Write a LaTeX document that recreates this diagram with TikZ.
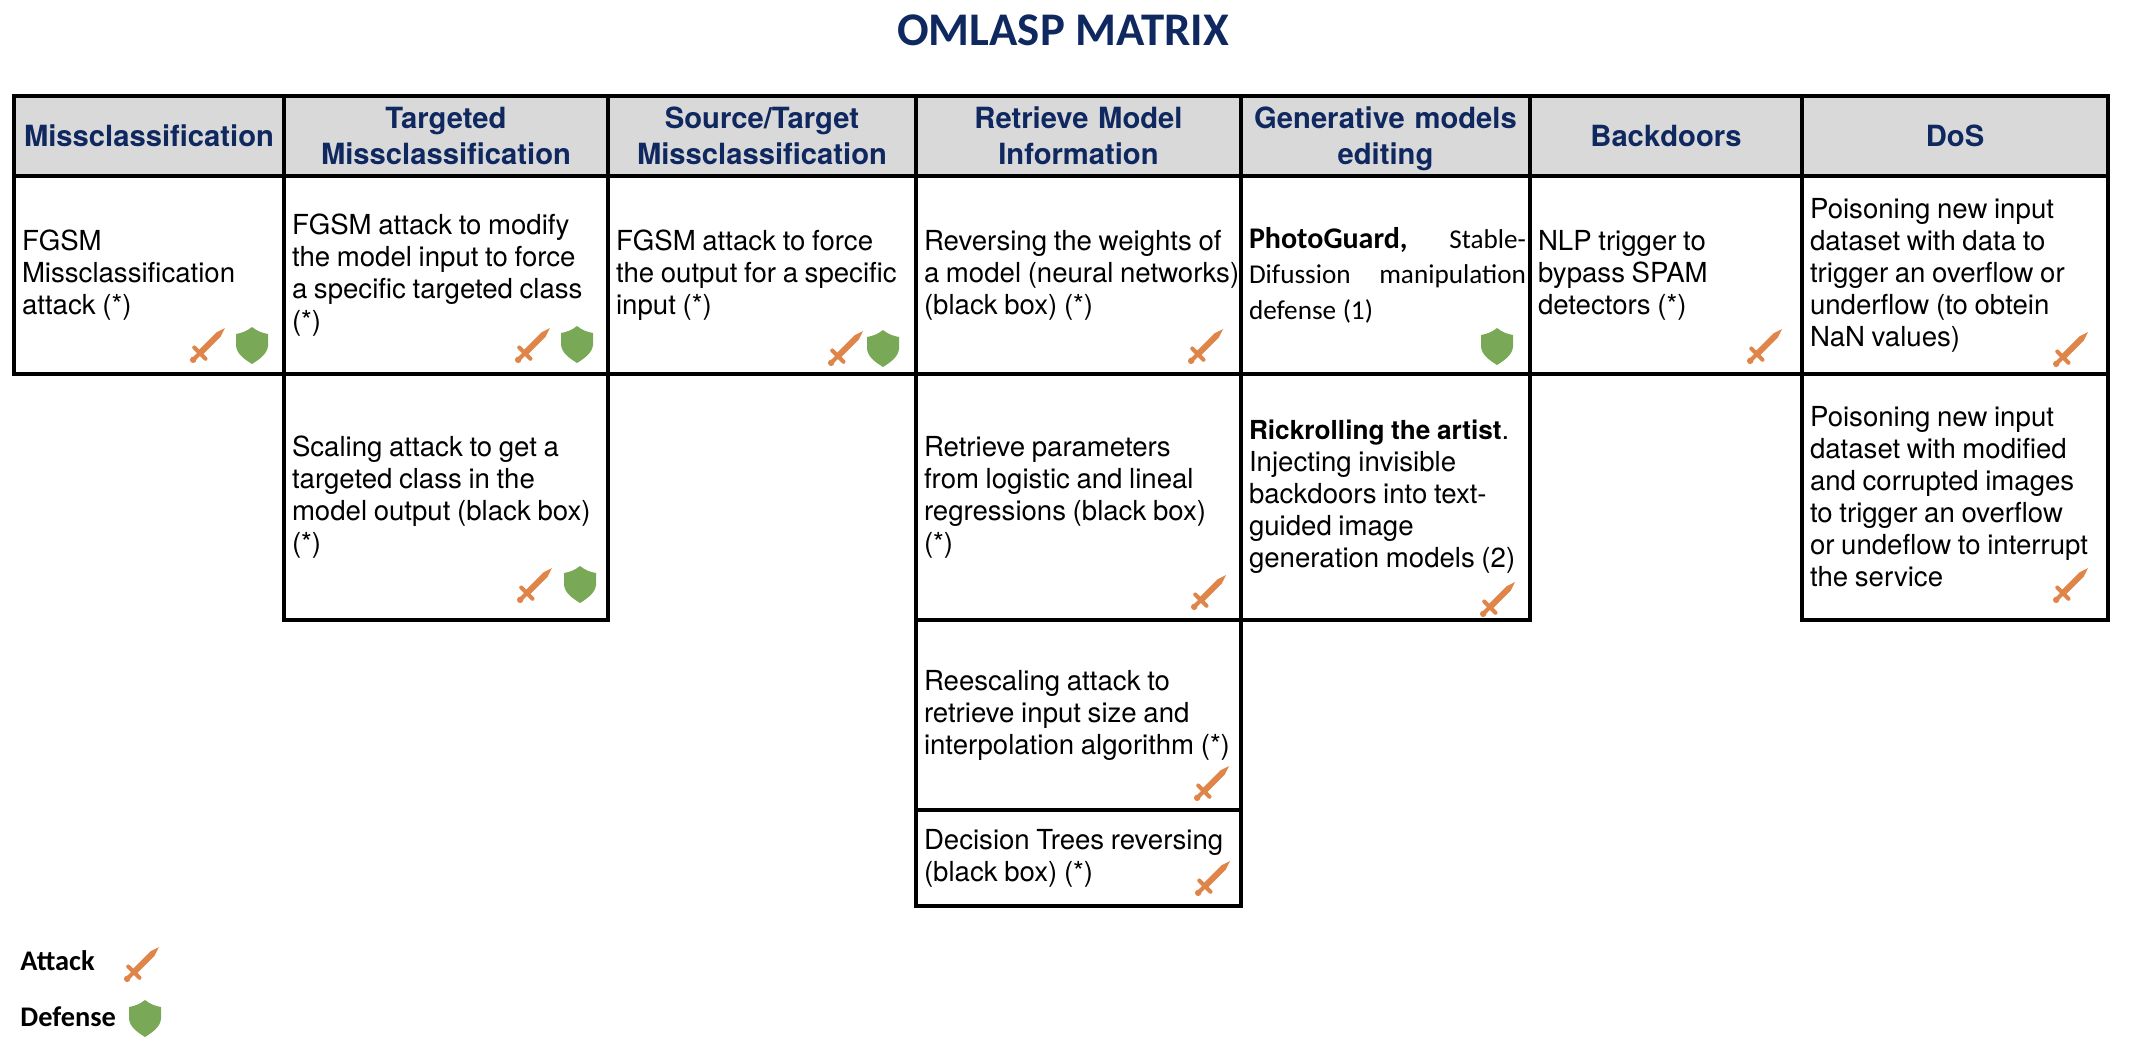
\documentclass[tikz,border=0pt]{standalone}
\usepackage{fontspec}
\setmainfont{TeX Gyre Heros}
\newfontfamily\calibri{Carlito}
\definecolor{navy}{HTML}{0F2860}
\definecolor{headgray}{HTML}{D9D9D9}
\definecolor{swordorange}{HTML}{DF8549}
\definecolor{shieldgreen}{HTML}{79A957}
\tikzset{
	headbox/.style={draw, fill=headgray, line width=1.8pt, anchor=north west, outer sep=0pt,
		inner xsep=1pt, inner ysep=0pt, minimum height=40pt, text width=#1*.5pt-2pt, align=center,
		text=navy, font=\fontsize{14.6}{18}\selectfont\bfseries,
		execute at begin node={\rule{0pt}{13.6pt}}, execute at end node={\rule[-3.6pt]{0pt}{3.6pt}}},
	cellbox/.style 2 args={draw, line width=1.8pt, anchor=north west, outer sep=0pt,
		inner xsep=0pt, inner ysep=0pt, minimum height=#2*.5pt, text width=#1*.5pt, align=left,
		font=\fontsize{13.8}{16}\selectfont,
		execute at begin node={\leftskip=4pt\hyphenpenalty=10000\spaceskip=.24em\relax}},
	keylabel/.style={anchor=west, inner sep=0pt, font=\calibri\fontsize{14.2}{16}\selectfont\bfseries},
	attackicon/.pic={
		\begin{scope}[rotate=45]
			\fill[swordorange] (-11,-3) -- (15,-3) -- (24,0) -- (15,3) -- (-11,3) -- cycle;
			\fill[swordorange, rounded corners=1pt] (-13.5,-10) rectangle (-9.5,10);
			\fill[swordorange] (-21,-2) rectangle (-11,2);
			\fill[swordorange] (-21,0) circle (3.2);
		\end{scope}
	},
	defenseicon/.pic={
		\fill[shieldgreen] (0,-18) .. controls (5,-14) and (10,-12) .. (16,-11)
			-- (16,1) .. controls (15,9) and (8,14) .. (0,19)
			.. controls (-8,14) and (-15,9) .. (-16,1) -- (-16,-11)
			.. controls (-10,-12) and (-5,-14) .. (0,-18) -- cycle;
	}
}
\begin{document}
\begin{tikzpicture}[x=.5pt, y=-.5pt]
	\useasboundingbox (0,0) rectangle (2134,1050);

	\node[text=navy, font=\calibri\fontsize{23.4}{26}\selectfont\bfseries, inner sep=0pt] (title) at (1063,30) {OMLASP MATRIX};

	% draw header row
	\foreach \s/\x/\w/\txt in {
		1/14/270/{Missclassification},
		2/284/324/{Targeted\\Missclassification},
		3/608/308/{Source/Target\\Missclassification},
		4/916/325/{Retrieve Model\\Information},
		5/1241/289/{Generative models\\editing},
		6/1530/272/{Backdoors},
		7/1802/306/{DoS}}
	{
		\node[headbox=\w] (head_\s) at (\x,96) {\txt};
	}

	% draw first row
	\foreach \s/\x/\w/\txt in {
		1/14/270/{FGSM\\Missclassification\\attack (*)},
		2/284/324/{FGSM attack to modify\\the model input to force\\a specific targeted class\\(*)},
		3/608/308/{FGSM attack to force\\the output for a specific\\input (*)},
		4/916/325/{Reversing the weights of\\a model (neural networks)\\(black box) (*)},
		6/1530/272/{NLP trigger to\\bypass SPAM\\detectors (*)},
		7/1802/306/{Poisoning new input\\dataset with data to\\trigger an overflow or\\underflow (to obtein\\NaN values)}}
	{
		\node[cellbox={\w}{198}] (first_\s) at (\x,176) {\txt};
	}
	\node[cellbox={289}{198}, font=\calibri\fontsize{13.6}{17.8}\selectfont] (first_5) at (1241,176)
		{{\fontsize{15}{17.8}\selectfont\textbf{PhotoGuard,}}\hfill Stable-\kern2pt\\Difussion\hfill manipulation\kern2pt\\defense (1)};

	% draw second row
	\node[cellbox={324}{246}] (second_2) at (284,374) {Scaling attack to get a\\targeted class in the\\model output (black box)\\(*)};
	\node[cellbox={325}{246}] (second_4) at (916,374) {Retrieve parameters\\from logistic and lineal\\regressions (black box)\\(*)};
	\node[cellbox={289}{246}] (second_5) at (1241,374) {{\fontsize{13.1}{16}\selectfont\textbf{Rickrolling the artist}}.\\Injecting invisible\\backdoors into text-\\guided image\\generation models (2)};
	\node[cellbox={306}{246}] (second_7) at (1802,374) {Poisoning new input\\dataset with modified\\and corrupted images\\to trigger an overflow\\or undeflow to interrupt\\the service};

	% draw last rows
	\node[cellbox={325}{190}] (third_4) at (916,620) {Reescaling attack to\\retrieve input size and\\interpolation algorithm (*)};
	\node[cellbox={325}{96}] (fourth_4) at (916,810) {Decision Trees reversing\\(black box) (*)};

	% draw icons
	\foreach \x/\y in {208/345, 533/345, 846/348, 1206/346, 1765/346, 2071/349, 535/585, 1209/592, 1498/599, 2071/585, 1212/783, 1213/878}
	{
		\pic at (\x,\y) {attackicon};
	}
	\foreach \x/\y in {252/345, 577/344, 883/348, 1497/346, 580/584}
	{
		\pic at (\x,\y) {defenseicon};
	}

	% draw legend
	\node[keylabel] (attack) at (20,961) {Attack};
	\node[keylabel] (defense) at (20,1017) {Defense};
	\pic at (142,964) {attackicon};
	\pic at (145,1018) {defenseicon};

\end{tikzpicture}
\end{document}
